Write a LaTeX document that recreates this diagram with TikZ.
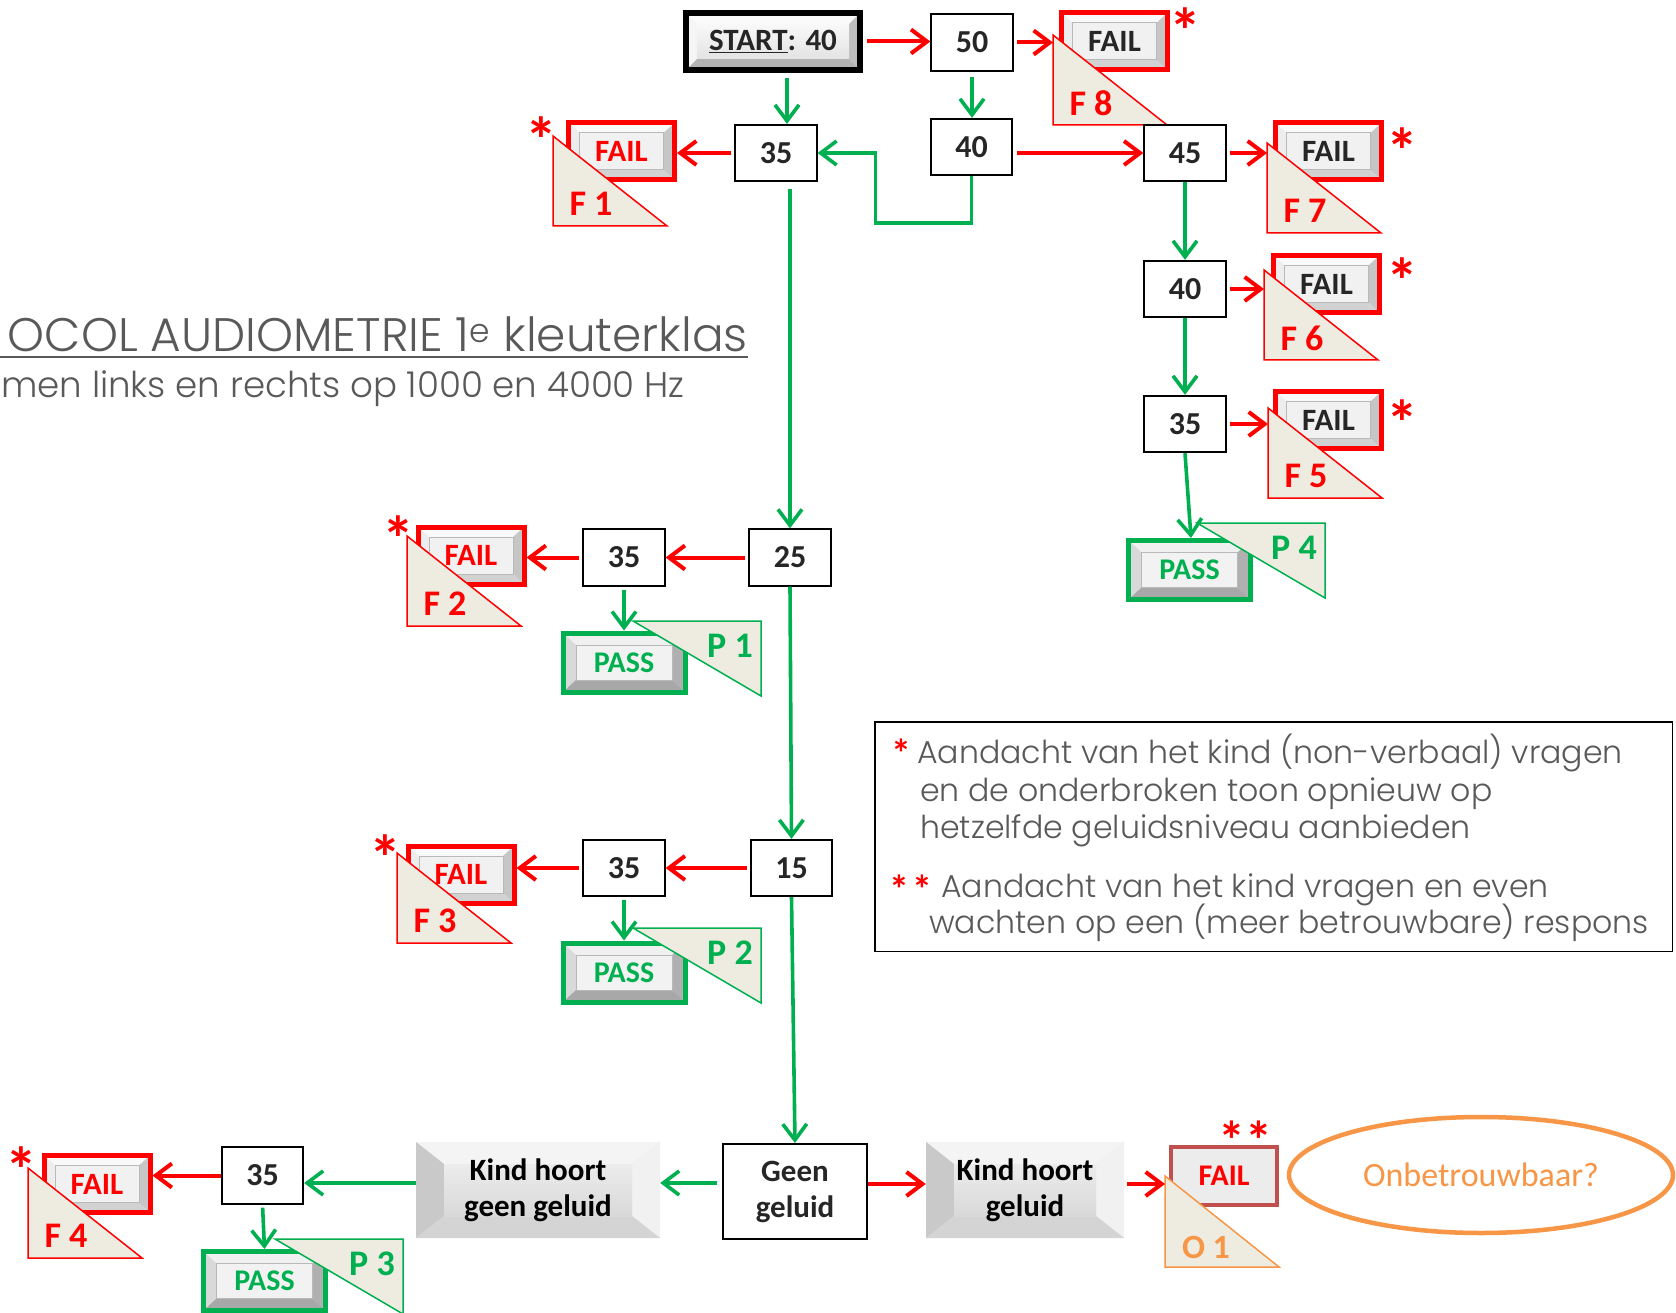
\documentclass[tikz,border=0pt]{standalone}
\usepackage{fontspec}
\setmainfont{Carlito}
\IfFontExistsTF{Poppins Light}{\newfontfamily\gothic{Poppins Light}}{\newfontfamily\gothic{Poppins}}
\usetikzlibrary{arrows.meta,shapes.geometric,backgrounds}
\definecolor{cred}{HTML}{FF0000}
\definecolor{cgreen}{HTML}{00B050}
\definecolor{ctan}{HTML}{EEECE1}
\definecolor{corange}{HTML}{F79646}
\definecolor{cfailo}{HTML}{C0504D}
\definecolor{cgrey}{HTML}{595959}
\definecolor{cdark}{HTML}{262626}
\tikzset{
  bevel/.style n args={8}{path picture={
    \coordinate (bvA) at (path picture bounding box.north west);
    \coordinate (bvB) at (path picture bounding box.north east);
    \coordinate (bvC) at (path picture bounding box.south east);
    \coordinate (bvD) at (path picture bounding box.south west);
    \coordinate (ivA) at ([xshift=#1,yshift=-#2]bvA);
    \coordinate (ivB) at ([xshift=-#1,yshift=-#2]bvB);
    \coordinate (ivC) at ([xshift=-#1,yshift=#2]bvC);
    \coordinate (ivD) at ([xshift=#1,yshift=#2]bvD);
    \fill[#3] (bvA)--(bvB)--(ivB)--(ivA)--cycle;
    \fill[#4] (bvA)--(ivA)--(ivD)--(bvD)--cycle;
    \fill[#5] (bvB)--(bvC)--(ivC)--(ivB)--cycle;
    \fill[#6] (bvD)--(ivD)--(ivC)--(bvC)--cycle;
    \path[#7] (ivA) rectangle (ivC);
    \path[#8] (ivA) rectangle (ivC);
  }},
  numbox/.style={draw=black, line width=1.8pt, fill=white, minimum width=81.5pt, minimum height=56.5pt, inner sep=0pt, text=cdark, font=\fontsize{32}{36}\selectfont\bfseries},
  startbox/.style={draw=black, line width=6pt, fill=gray!10, minimum width=174pt, minimum height=57pt, inner sep=0pt, text=cdark, font=\fontsize{31}{36}\selectfont\bfseries,
     bevel={11}{11}{gray!3}{gray!8}{gray!50}{gray!60}{top color=gray!5,bottom color=gray!22}{draw=none}},
  failbox/.style={draw=cred, line width=5pt, fill=gray!12, minimum width=106pt, minimum height=57pt, inner sep=0pt, font=\fontsize{31}{36}\selectfont\bfseries,
     bevel={11}{10}{gray!5}{gray!14}{gray!45}{gray!35}{fill=gray!11}{draw=gray!55,line width=1pt}},
  failr/.style={failbox, text=cred},
  faild/.style={failbox, text=cdark},
  passbox/.style={draw=cgreen, line width=5pt, fill=gray!12, minimum width=122pt, minimum height=59pt, inner sep=0pt, text=cgreen, font=\fontsize{30}{36}\selectfont\bfseries,
     bevel={13}{12}{gray!12}{gray!30}{gray!62}{gray!68}{fill=gray!10}{draw=gray!55,line width=1pt}},
  kindbox/.style={fill=gray!25, minimum height=96pt, inner sep=0pt, align=center, text=black, font=\fontsize{31}{36}\selectfont\bfseries,
     bevel={28}{22}{gray!9}{gray!42}{gray!11}{gray!34}{top color=gray!15,bottom color=gray!30}{draw=none}},
  geenbox/.style={draw=black, line width=2pt, fill=white, minimum width=144pt, minimum height=95pt, inner sep=0pt, align=center, text=cdark, font=\fontsize{31}{36}\selectfont\bfseries},
  failobox/.style={draw=cfailo, line width=4pt, fill=gray!15, minimum width=106pt, minimum height=58pt, inner sep=0pt, text=cred, font=\fontsize{30}{36}\selectfont\bfseries},
  ftri/.style={draw=cred, line width=1.5pt, fill=ctan},
  ptri/.style={draw=cgreen, line width=1.5pt, fill=ctan},
  otri/.style={draw=corange, line width=1.5pt, fill=ctan},
  flabel/.style={text=cred, font=\fontsize{36}{40}\selectfont\bfseries, inner sep=0pt},
  plabel/.style={text=cgreen, font=\fontsize{36}{40}\selectfont\bfseries, inner sep=0pt},
  olabel/.style={text=corange, font=\fontsize{34}{40}\selectfont\bfseries, inner sep=0pt},
  astx/.style={text=cred, font=\fontsize{64}{64}\selectfont\bfseries, inner sep=0pt},
  astn/.style={text=cred, font=\fontsize{40}{40}\selectfont\bfseries, inner sep=0pt},
  rarr/.style={draw=cred, line width=4pt, -{Straight Barb[length=16pt,width=24pt]}},
  garr/.style={draw=cgreen, line width=3.6pt, -{Straight Barb[length=16pt,width=24pt]}},
  notetxt/.style={text=cgrey, font=\gothic\fontsize{31.6}{38}\selectfont, inner sep=0pt, anchor=base west},
  titletxt/.style={text=cgrey, font=\gothic\fontsize{47}{56}\selectfont, inner sep=0pt},
  subtxt/.style={text=cgrey, font=\gothic\fontsize{35.6}{42}\selectfont, inner sep=0pt},
}
\begin{document}
\begin{tikzpicture}[x=1pt,y=-1pt]
\useasboundingbox (0,0) rectangle (1676,1313);
\fill[white] (0,0) rectangle (1676,1313);

% title
\node[titletxt, anchor=base east] (title) at (748,352) {OCOL AUDIOMETRIE 1\textsuperscript{e} kleuterklas};
\draw[cgrey, line width=2pt] (0,357) -- ([yshift=-5pt]title.base east);
\node[subtxt, anchor=base west] (sub) at (1,398) {men links en rechts op 1000 en 4000 Hz};

% top row
\node[startbox] (start) at (773,41.5) {\underline{START}: 40};
\node[numbox] (n50) at (972,42.5) {50};
\node[faild] (f8) at (1114.5,41.5) {FAIL};
\coordinate (t8) at (1053,125);
\draw[ftri] (t8) -- ([yshift=90]t8) -- ([xshift=114]t8) -- cycle;
\node[flabel] (l8) at ([xshift=38,yshift=22]t8) {F 8};
\node[astx] (a8) at (1185,31) {*};

\node[numbox] (n35a) at (776,153) {35};
\node[failr] (f1) at (621.5,151.5) {FAIL};
\coordinate (t1) at (553,226);
\draw[ftri] (t1) -- ([yshift=90]t1) -- ([xshift=114]t1) -- cycle;
\node[flabel] (l1) at ([xshift=38,yshift=22]t1) {F 1};
\node[astx] (a1) at (541,140) {*};

\node[numbox] (n40a) at (971.5,147) {40};
\node[numbox] (n45) at (1185,153) {45};
\node[faild] (f7) at (1328.5,151.5) {FAIL};
\coordinate (t7) at (1267,233);
\draw[ftri] (t7) -- ([yshift=90]t7) -- ([xshift=114]t7) -- cycle;
\node[flabel] (l7) at ([xshift=38,yshift=22]t7) {F 7};
\node[astx] (a7) at (1402,151) {*};

\node[numbox] (n40b) at (1185,289) {40};
\node[faild] (f6) at (1326.5,284) {FAIL};
\coordinate (t6) at (1264,360);
\draw[ftri] (t6) -- ([yshift=90]t6) -- ([xshift=114]t6) -- cycle;
\node[flabel] (l6) at ([xshift=38,yshift=22]t6) {F 6};
\node[astx] (a6) at (1402,281) {*};

\node[numbox] (n35b) at (1185,424) {35};
\node[faild] (f5) at (1328.5,420) {FAIL};
\coordinate (t5) at (1268,498);
\draw[ftri] (t5) -- ([yshift=90]t5) -- ([xshift=114]t5) -- cycle;
\node[flabel] (l5) at ([xshift=38,yshift=22]t5) {F 5};
\node[astx] (a5) at (1402,423) {*};

\node[passbox] (p4) at (1189.5,570) {PASS};
\coordinate (tp4) at (1325,523);
\draw[ptri] (tp4) -- ([xshift=-128]tp4) -- ([yshift=-75]tp4) -- cycle;
\node[plabel] (lp4) at ([xshift=-31,yshift=-25]tp4) {P 4};

% row 2
\node[numbox] (n25) at (790,557.5) {25};
\node[numbox] (n35c) at (624,557.5) {35};
\node[failr] (f2) at (471,555.5) {FAIL};
\coordinate (t2) at (407,626);
\draw[ftri] (t2) -- ([yshift=90]t2) -- ([xshift=114]t2) -- cycle;
\node[flabel] (l2) at ([xshift=38,yshift=22]t2) {F 2};
\node[astx] (a2) at (398,539) {*};
\node[passbox] (p1) at (624,662.5) {PASS};
\coordinate (tp1) at (761,621);
\draw[ptri] (tp1) -- ([xshift=-128]tp1) -- ([yshift=-75]tp1) -- cycle;
\node[plabel] (lp1) at ([xshift=-31,yshift=-25]tp1) {P 1};

% row 3
\node[numbox] (n15) at (791.5,868) {15};
\node[numbox] (n35d) at (624,868) {35};
\node[failr] (f3) at (461,874.5) {FAIL};
\coordinate (t3) at (397,943);
\draw[ftri] (t3) -- ([yshift=90]t3) -- ([xshift=114]t3) -- cycle;
\node[flabel] (l3) at ([xshift=38,yshift=22]t3) {F 3};
\node[astx] (a3) at (385,858) {*};
\node[passbox] (p2) at (624,972.5) {PASS};
\coordinate (tp2) at (761,928);
\draw[ptri] (tp2) -- ([xshift=-128]tp2) -- ([yshift=-75]tp2) -- cycle;
\node[plabel] (lp2) at ([xshift=-31,yshift=-25]tp2) {P 2};

% bottom row
\node[geenbox] (geen) at (795,1191.5) {Geen\\geluid};
\node[kindbox, minimum width=244pt] (kg) at (538,1190) {Kind hoort\\geen geluid};
\node[kindbox, minimum width=198pt] (kh) at (1025,1190) {Kind hoort\\geluid};
\begin{scope}[on background layer]
  \fill[black, opacity=0.12] ([xshift=1pt,yshift=-2pt]kg.south west) rectangle ([xshift=3pt,yshift=-2pt]kg.north east);
  \fill[black, opacity=0.15] ([xshift=2pt,yshift=-5pt]kg.south west) rectangle ([xshift=2pt,yshift=-5pt]kg.north east);
  \fill[black, opacity=0.12] ([xshift=1pt,yshift=-2pt]kh.south west) rectangle ([xshift=3pt,yshift=-2pt]kh.north east);
  \fill[black, opacity=0.15] ([xshift=2pt,yshift=-5pt]kh.south west) rectangle ([xshift=2pt,yshift=-5pt]kh.north east);
\end{scope}
\node[failobox] (fo) at (1224,1176) {FAIL};
\coordinate (to) at (1165,1267);
\draw[otri] (to) -- ([yshift=91]to) -- ([xshift=114]to) -- cycle;
\node[olabel] (lo) at ([xshift=41,yshift=20]to) {O 1};
\node[astx, font=\fontsize{54}{54}\selectfont\bfseries] (ao) at (1245,1133) {\smash{\raisebox{-26pt}{**}}};
\node[ellipse, draw=corange, line width=4.5pt, minimum width=384pt, minimum height=116pt, inner sep=0pt, text=corange, font=\fontsize{34}{40}\selectfont] (onb) at (1481,1175) {Onbetrouwbaar?};

\node[numbox] (n35e) at (262.5,1175.5) {35};
\node[failr] (f4) at (97,1184) {FAIL};
\coordinate (t4) at (28,1258);
\draw[ftri] (t4) -- ([yshift=90]t4) -- ([xshift=114]t4) -- cycle;
\node[flabel] (l4) at ([xshift=38,yshift=22]t4) {F 4};
\node[astx] (a4) at (21,1170) {*};
\node[passbox] (p3) at (264.5,1281) {PASS};
\coordinate (tp3) at (403,1239);
\draw[ptri] (tp3) -- ([xshift=-128]tp3) -- ([yshift=-75]tp3) -- cycle;
\node[plabel] (lp3) at ([xshift=-31,yshift=-25]tp3) {P 3};

% note
\node[draw=black, line width=1.5pt, minimum width=797.5pt, minimum height=229.5pt, inner sep=0pt] (note) at (1273.5,836.5) {};
\node[notetxt] (nt1) at (917,763) {Aandacht van het kind (non-verbaal) vragen};
\node[notetxt] (nt2) at (920,801) {en de onderbroken toon opnieuw op};
\node[notetxt] (nt3) at (920,838) {hetzelfde geluidsniveau aanbieden};
\node[notetxt] (nt4) at (941,897) {Aandacht van het kind vragen en even};
\node[notetxt] (nt5) at (929,933) {wachten op een (meer betrouwbare) respons};
\node[astn] (na1) at (901,753) {*};
\node[astn] (na2) at (911,889) {*\hspace{3pt}*};

% connectors
\draw[rarr, shorten <=4pt] (start.east) -- (start.east -| n50.west);
\draw[rarr, shorten <=3pt] (n50.east) -- (n50.east -| t8);
\draw[garr, shorten <=5pt] ([xshift=11pt]n35a.north |- start.south) -- ([xshift=11pt]n35a.north);
\draw[garr, shorten <=5pt] (n50.south) -- (n50.south |- n40a.north);
\draw[garr] (n40a.south) -- ++(0,47) -| ([xshift=58pt]n35a.east) -- (n35a.east);
\draw[rarr, shorten <=4pt] (n40a.east |- n45.west) -- (n45.west);
\draw[rarr, shorten <=3pt] (n35a.west) -- (n35a.west -| f1.east);
\draw[garr, shorten <=7pt] (n25.north |- n35a.south) -- (n25.north);
\draw[rarr, shorten <=3pt] (n45.east) -- (n45.east -| t7);
\draw[garr] (n45.south) -- (n40b.north);
\draw[rarr, shorten <=3pt] (n40b.east) -- (n40b.east -| t6);
\draw[garr] (n40b.south) -- (n35b.north);
\draw[rarr, shorten <=3pt] (n35b.east) -- (n35b.east -| t5);
\draw[garr] (n35b.south) -- ([xshift=1.5pt]p4.north);
\draw[rarr, shorten <=3pt] (n25.west) -- (n35c.east);
\draw[rarr, shorten <=3pt] (n35c.west) -- (n35c.west -| f2.east);
\draw[garr, shorten <=3pt] (n35c.south) -- (p1.north);
\draw[garr] (n25.south) -- (n15.north);
\draw[rarr, shorten <=3pt] (n15.west) -- (n35d.east);
\draw[rarr, shorten <=3pt] (n35d.west) -- (n35d.west -| f3.east);
\draw[garr, shorten <=3pt] (n35d.south) -- (p2.north);
\draw[garr] (n15.south) -- (geen.north);
\draw[garr, shorten <=5pt] ([yshift=8.5pt]geen.west) -- ([yshift=8.5pt]geen.west -| kg.east);
\draw[garr] ([yshift=7pt]kg.west) -- ([yshift=7pt]kg.west -| n35e.east);
\draw[rarr] (n35e.west) -- (n35e.west -| f4.east);
\draw[garr, shorten <=3pt] (n35e.south) -- (p3.north);
\draw[rarr] ([yshift=7.5pt]geen.east) -- ([yshift=7.5pt]geen.east -| kh.west);
\draw[rarr, shorten <=3pt] ([yshift=6pt]kh.east) -- ([yshift=6pt]kh.east -| to);
\end{tikzpicture}
\end{document}
